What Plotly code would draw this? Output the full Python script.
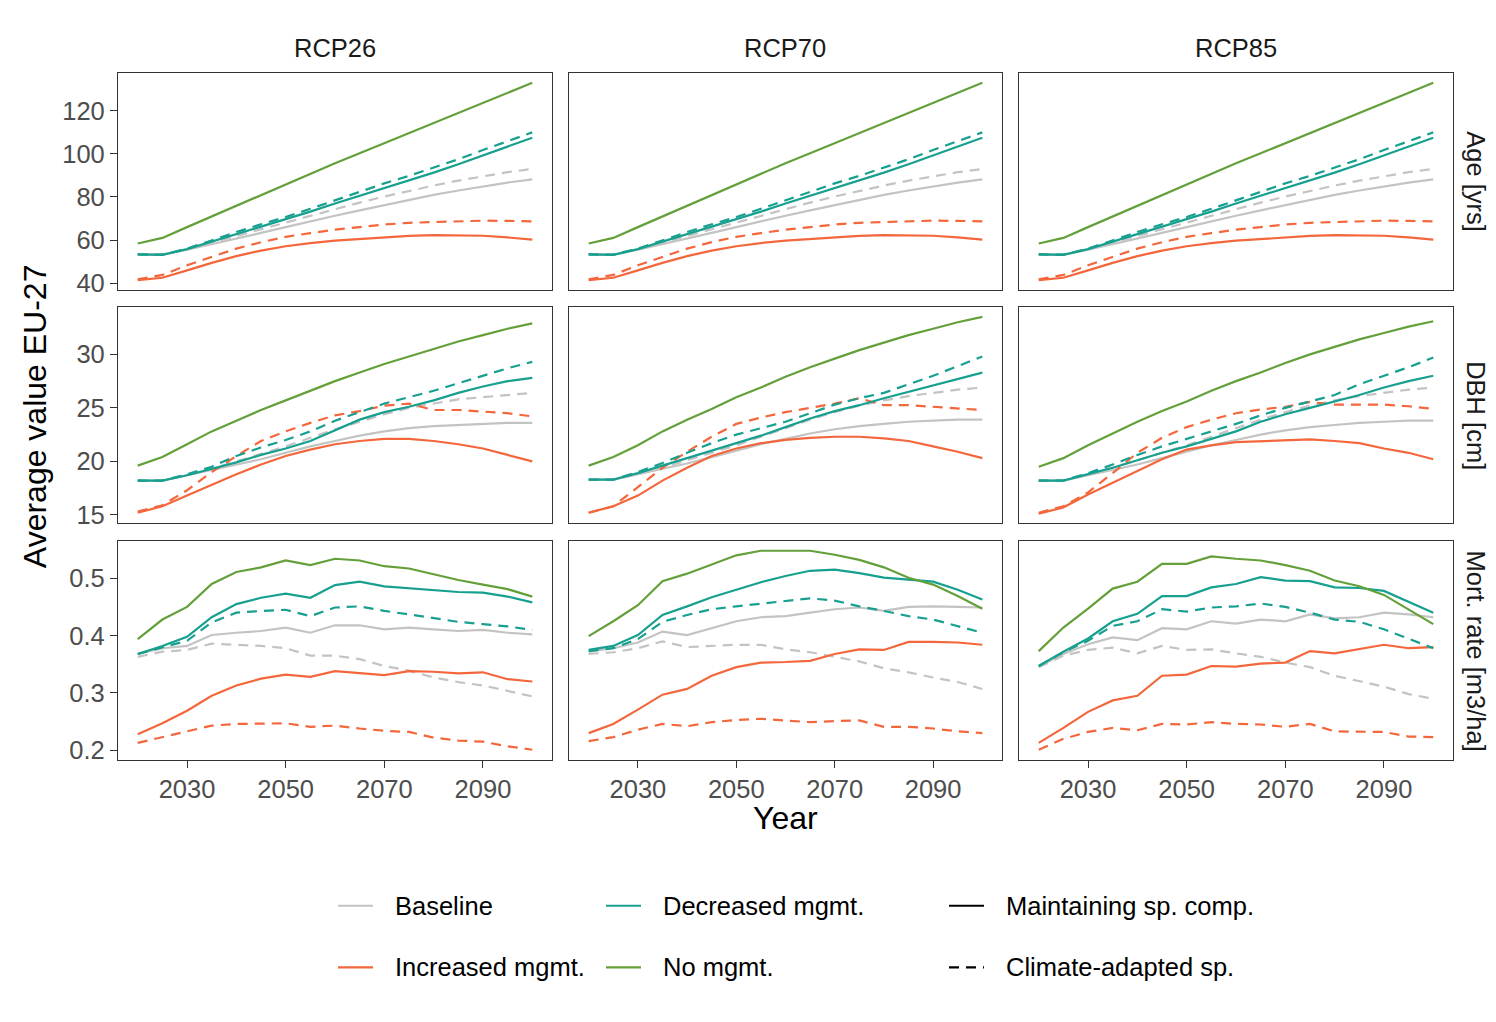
import plotly.graph_objects as go

# ---------------------------------------------------------------- data
years = list(range(2020, 2101, 5))
rcps = ["RCP26", "RCP70", "RCP85"]
variables = ["Age [yrs]", "DBH [cm]", "Mort. rate [m3/ha]"]

# series keys: <management>_<species composition>
# maint = maintaining species composition, adapt = climate-adapted species

# Average stand age [yrs]
age_rcp26 = {
    "base_maint": [53.3, 53.2, 55.5, 58.0, 60.5, 63.3, 66.0, 68.8, 71.3, 73.8, 76.3, 78.8, 81.0, 83.0, 85.0, 86.7, 88.2],
    "base_adapt": [53.3, 53.2, 55.7, 58.8, 62.0, 65.2, 68.4, 71.5, 74.5, 77.4, 80.2, 82.8, 85.3, 87.6, 89.7, 91.5, 93.0],
    "inc_maint": [41.4, 42.5, 45.9, 49.4, 52.5, 55.1, 57.1, 58.6, 59.7, 60.5, 61.3, 61.9, 62.3, 62.3, 62.0, 61.2, 60.2],
    "inc_adapt": [41.7, 43.8, 48.3, 52.3, 56.0, 59.0, 61.5, 63.2, 64.8, 66.0, 67.2, 68.0, 68.4, 68.8, 69.0, 68.9, 68.7],
    "dec_maint": [53.3, 53.1, 55.8, 59.3, 62.8, 66.3, 69.5, 73.2, 77.0, 80.5, 84.0, 87.5, 91.3, 95.2, 99.2, 103.3, 107.5],
    "dec_adapt": [53.3, 53.2, 56.0, 60.0, 63.7, 67.3, 70.7, 74.5, 78.5, 82.5, 86.3, 89.8, 93.5, 97.5, 101.8, 106.0, 110.0],
    "no_maint": [58.4, 61.0, 66.0, 71.0, 76.0, 81.0, 86.0, 91.0, 95.7, 100.3, 105.0, 109.7, 114.4, 119.0, 123.8, 128.4, 133.0],
}
age_rcp70 = {
    "base_maint": [53.3, 53.2, 55.5, 58.0, 60.5, 63.3, 66.0, 68.8, 71.3, 73.8, 76.3, 78.8, 81.0, 83.0, 85.0, 86.7, 88.2],
    "base_adapt": [53.3, 53.2, 55.7, 58.8, 62.0, 65.2, 68.4, 71.5, 74.5, 77.4, 80.2, 82.8, 85.3, 87.6, 89.7, 91.5, 93.0],
    "inc_maint": [41.4, 42.5, 45.9, 49.4, 52.5, 55.1, 57.1, 58.6, 59.7, 60.5, 61.3, 61.9, 62.3, 62.3, 62.0, 61.2, 60.2],
    "inc_adapt": [41.7, 43.8, 48.3, 52.3, 56.0, 59.0, 61.5, 63.2, 64.8, 66.0, 67.2, 68.0, 68.4, 68.8, 69.0, 68.9, 68.7],
    "dec_maint": [53.3, 53.1, 55.8, 59.3, 62.8, 66.3, 69.5, 73.2, 77.0, 80.5, 84.0, 87.5, 91.3, 95.2, 99.2, 103.3, 107.5],
    "dec_adapt": [53.3, 53.2, 56.0, 60.0, 63.7, 67.3, 70.7, 74.5, 78.5, 82.5, 86.3, 89.8, 93.5, 97.5, 101.8, 106.0, 110.0],
    "no_maint": [58.4, 61.0, 66.0, 71.0, 76.0, 81.0, 86.0, 91.0, 95.7, 100.3, 105.0, 109.7, 114.4, 119.0, 123.8, 128.4, 133.0],
}
age_rcp85 = {
    "base_maint": [53.3, 53.2, 55.5, 58.0, 60.5, 63.3, 66.0, 68.8, 71.3, 73.8, 76.3, 78.8, 81.0, 83.0, 85.0, 86.7, 88.2],
    "base_adapt": [53.3, 53.2, 55.7, 58.8, 62.0, 65.2, 68.4, 71.5, 74.5, 77.4, 80.2, 82.8, 85.3, 87.6, 89.7, 91.5, 93.0],
    "inc_maint": [41.4, 42.5, 45.9, 49.4, 52.5, 55.1, 57.1, 58.6, 59.7, 60.5, 61.3, 61.9, 62.3, 62.3, 62.0, 61.2, 60.2],
    "inc_adapt": [41.7, 43.8, 48.3, 52.3, 56.0, 59.0, 61.5, 63.2, 64.8, 66.0, 67.2, 68.0, 68.4, 68.8, 69.0, 68.9, 68.7],
    "dec_maint": [53.3, 53.1, 55.8, 59.3, 62.8, 66.3, 69.5, 73.2, 77.0, 80.5, 84.0, 87.5, 91.3, 95.2, 99.2, 103.3, 107.5],
    "dec_adapt": [53.3, 53.2, 56.0, 60.0, 63.7, 67.3, 70.7, 74.5, 78.5, 82.5, 86.3, 89.8, 93.5, 97.5, 101.8, 106.0, 110.0],
    "no_maint": [58.4, 61.0, 66.0, 71.0, 76.0, 81.0, 86.0, 91.0, 95.7, 100.3, 105.0, 109.7, 114.4, 119.0, 123.8, 128.4, 133.0],
}

# Average diameter at breast height [cm]
dbh_rcp26 = {
    "base_maint": [18.2, 18.2, 18.7, 19.2, 19.7, 20.2, 20.8, 21.4, 21.9, 22.4, 22.8, 23.1, 23.3, 23.4, 23.5, 23.6, 23.6],
    "base_adapt": [18.2, 18.2, 18.7, 19.3, 20.0, 20.7, 21.4, 22.2, 23.0, 23.7, 24.4, 25.0, 25.4, 25.8, 26.0, 26.2, 26.4],
    "inc_maint": [15.2, 15.8, 16.8, 17.8, 18.8, 19.7, 20.5, 21.1, 21.6, 21.9, 22.1, 22.1, 21.9, 21.6, 21.2, 20.6, 20.0],
    "inc_adapt": [15.3, 15.9, 17.3, 19.0, 20.5, 21.9, 22.8, 23.6, 24.3, 24.7, 25.2, 25.4, 24.8, 24.8, 24.65, 24.5, 24.2],
    "dec_maint": [18.2, 18.2, 18.7, 19.3, 19.9, 20.6, 21.2, 21.9, 22.9, 23.9, 24.6, 25.1, 25.7, 26.4, 27.0, 27.5, 27.8],
    "dec_adapt": [18.2, 18.2, 18.8, 19.5, 20.5, 21.3, 22.0, 22.8, 23.8, 24.6, 25.4, 26.0, 26.6, 27.3, 28.0, 28.7, 29.3],
    "no_maint": [19.6, 20.4, 21.6, 22.8, 23.8, 24.8, 25.7, 26.6, 27.5, 28.3, 29.1, 29.8, 30.5, 31.2, 31.8, 32.4, 32.9],
}
dbh_rcp70 = {
    "base_maint": [18.3, 18.3, 18.8, 19.3, 19.8, 20.4, 21.0, 21.6, 22.1, 22.6, 23.0, 23.3, 23.5, 23.7, 23.8, 23.9, 23.9],
    "base_adapt": [18.3, 18.3, 18.8, 19.4, 20.1, 20.8, 21.5, 22.3, 23.1, 23.9, 24.6, 25.2, 25.7, 26.1, 26.4, 26.7, 26.9],
    "inc_maint": [15.2, 15.8, 16.8, 18.2, 19.4, 20.5, 21.2, 21.7, 22.0, 22.2, 22.3, 22.3, 22.15, 21.9, 21.4, 20.9, 20.3],
    "inc_adapt": [15.2, 15.8, 17.6, 19.4, 20.9, 22.3, 23.5, 24.1, 24.6, 25.0, 25.4, 25.9, 25.25, 25.25, 25.1, 24.95, 24.8],
    "dec_maint": [18.3, 18.3, 18.9, 19.6, 20.3, 21.0, 21.7, 22.4, 23.2, 24.0, 24.7, 25.25, 25.9, 26.5, 27.1, 27.7, 28.3],
    "dec_adapt": [18.3, 18.3, 19.0, 19.85, 20.8, 21.7, 22.5, 23.1, 23.7, 24.5, 25.3, 25.9, 26.4, 27.2, 28.0, 28.9, 29.8],
    "no_maint": [19.6, 20.4, 21.5, 22.8, 23.9, 24.9, 26.0, 26.9, 27.9, 28.8, 29.6, 30.4, 31.1, 31.8, 32.4, 33.0, 33.5],
}
dbh_rcp85 = {
    "base_maint": [18.2, 18.2, 18.7, 19.2, 19.7, 20.3, 20.9, 21.5, 22.0, 22.5, 22.9, 23.2, 23.4, 23.6, 23.7, 23.8, 23.8],
    "base_adapt": [18.2, 18.2, 18.8, 19.4, 20.1, 20.8, 21.5, 22.3, 23.1, 23.9, 24.6, 25.2, 25.7, 26.1, 26.4, 26.7, 26.9],
    "inc_maint": [15.1, 15.7, 16.9, 18.0, 19.1, 20.2, 21.1, 21.5, 21.8, 21.9, 22.0, 22.05, 21.9, 21.7, 21.2, 20.8, 20.2],
    "inc_adapt": [15.2, 15.8, 17.1, 18.9, 20.8, 22.2, 23.2, 23.9, 24.5, 24.85, 25.1, 25.55, 25.3, 25.3, 25.3, 25.15, 24.9],
    "dec_maint": [18.2, 18.2, 18.8, 19.4, 20.1, 20.8, 21.4, 22.1, 22.8, 23.7, 24.4, 25.0, 25.6, 26.2, 26.9, 27.5, 28.0],
    "dec_adapt": [18.2, 18.2, 18.9, 19.7, 20.6, 21.4, 22.1, 22.8, 23.5, 24.3, 25.0, 25.6, 26.2, 27.2, 28.0, 28.8, 29.7],
    "no_maint": [19.5, 20.3, 21.5, 22.6, 23.7, 24.7, 25.6, 26.6, 27.5, 28.3, 29.2, 30.0, 30.7, 31.4, 32.0, 32.6, 33.1],
}

# Average mortality rate [m3/ha]
mort_rcp26 = {
    "base_maint": [0.368, 0.378, 0.382, 0.401, 0.405, 0.408, 0.414, 0.405, 0.418, 0.418, 0.411, 0.414, 0.411, 0.408, 0.410, 0.405, 0.402],
    "base_adapt": [0.363, 0.372, 0.375, 0.386, 0.384, 0.382, 0.378, 0.365, 0.365, 0.359, 0.347, 0.339, 0.327, 0.319, 0.313, 0.304, 0.294],
    "inc_maint": [0.228, 0.247, 0.269, 0.295, 0.313, 0.325, 0.332, 0.328, 0.338, 0.335, 0.331, 0.338, 0.337, 0.334, 0.336, 0.324, 0.320],
    "inc_adapt": [0.213, 0.223, 0.232, 0.243, 0.246, 0.246, 0.247, 0.241, 0.243, 0.238, 0.234, 0.232, 0.222, 0.217, 0.215, 0.207, 0.201],
    "dec_maint": [0.368, 0.382, 0.398, 0.432, 0.455, 0.466, 0.473, 0.466, 0.488, 0.494, 0.486, 0.483, 0.479, 0.476, 0.475, 0.468, 0.458],
    "dec_adapt": [0.368, 0.379, 0.391, 0.423, 0.440, 0.443, 0.445, 0.434, 0.449, 0.451, 0.443, 0.437, 0.430, 0.424, 0.420, 0.416, 0.410],
    "no_maint": [0.394, 0.428, 0.450, 0.490, 0.511, 0.519, 0.531, 0.523, 0.534, 0.531, 0.521, 0.517, 0.507, 0.497, 0.489, 0.481, 0.468],
}
mort_rcp70 = {
    "base_maint": [0.372, 0.378, 0.388, 0.407, 0.401, 0.413, 0.425, 0.432, 0.434, 0.440, 0.446, 0.449, 0.443, 0.450, 0.451, 0.450, 0.449],
    "base_adapt": [0.368, 0.371, 0.378, 0.390, 0.380, 0.382, 0.384, 0.384, 0.376, 0.371, 0.363, 0.355, 0.343, 0.336, 0.327, 0.319, 0.307],
    "inc_maint": [0.230, 0.246, 0.271, 0.297, 0.307, 0.330, 0.345, 0.353, 0.354, 0.356, 0.368, 0.376, 0.375, 0.389, 0.389, 0.388, 0.384],
    "inc_adapt": [0.216, 0.223, 0.236, 0.246, 0.242, 0.249, 0.253, 0.255, 0.252, 0.249, 0.251, 0.252, 0.241, 0.241, 0.238, 0.233, 0.230],
    "dec_maint": [0.375, 0.382, 0.401, 0.436, 0.451, 0.467, 0.480, 0.493, 0.504, 0.513, 0.515, 0.509, 0.501, 0.498, 0.494, 0.480, 0.463],
    "dec_adapt": [0.373, 0.378, 0.394, 0.424, 0.436, 0.446, 0.451, 0.456, 0.460, 0.465, 0.461, 0.451, 0.443, 0.434, 0.428, 0.417, 0.405],
    "no_maint": [0.399, 0.425, 0.453, 0.495, 0.508, 0.524, 0.540, 0.548, 0.548, 0.548, 0.541, 0.532, 0.519, 0.501, 0.489, 0.469, 0.447],
}
mort_rcp85 = {
    "base_maint": [0.346, 0.368, 0.385, 0.397, 0.392, 0.413, 0.411, 0.425, 0.421, 0.428, 0.425, 0.437, 0.430, 0.432, 0.440, 0.437, 0.432],
    "base_adapt": [0.345, 0.365, 0.375, 0.379, 0.369, 0.382, 0.375, 0.376, 0.369, 0.363, 0.353, 0.345, 0.330, 0.321, 0.311, 0.298, 0.290],
    "inc_maint": [0.213, 0.239, 0.267, 0.287, 0.295, 0.330, 0.332, 0.347, 0.346, 0.351, 0.353, 0.373, 0.369, 0.376, 0.384, 0.378, 0.380],
    "inc_adapt": [0.201, 0.220, 0.232, 0.239, 0.235, 0.246, 0.245, 0.249, 0.246, 0.245, 0.241, 0.246, 0.233, 0.232, 0.232, 0.224, 0.223],
    "dec_maint": [0.347, 0.372, 0.395, 0.425, 0.438, 0.469, 0.469, 0.484, 0.490, 0.502, 0.496, 0.495, 0.484, 0.483, 0.478, 0.459, 0.440],
    "dec_adapt": [0.347, 0.371, 0.391, 0.417, 0.425, 0.446, 0.442, 0.449, 0.451, 0.456, 0.450, 0.440, 0.428, 0.424, 0.411, 0.394, 0.378],
    "no_maint": [0.373, 0.414, 0.447, 0.482, 0.494, 0.525, 0.525, 0.538, 0.534, 0.531, 0.523, 0.513, 0.496, 0.486, 0.471, 0.446, 0.420],
}

panels = [
    [age_rcp26, age_rcp70, age_rcp85],
    [dbh_rcp26, dbh_rcp70, dbh_rcp85],
    [mort_rcp26, mort_rcp70, mort_rcp85],
]

y_ticks = [[40, 60, 80, 100, 120], [15, 20, 25, 30], [0.2, 0.3, 0.4, 0.5]]
y_ticktext = [["40", "60", "80", "100", "120"], ["15", "20", "25", "30"], ["0.2", "0.3", "0.4", "0.5"]]
y_ranges = [[36.8, 137.8], [14.2, 34.44], [0.1835, 0.5645]]
x_ticks = [2030, 2050, 2070, 2090]
x_range = [2016, 2104]

management_labels = {"base": "Baseline", "inc": "Increased mgmt.", "dec": "Decreased mgmt.", "no": "No mgmt."}
management_colors = {"base": "#C3C3C3", "inc": "#F4663B", "dec": "#17A08F", "no": "#64A03A"}
species_labels = {"maint": "Maintaining sp. comp.", "adapt": "Climate-adapted sp."}
DASH = "10px,7px"
draw_order = ["base_adapt", "base_maint", "inc_adapt", "inc_maint", "dec_adapt", "dec_maint", "no_maint"]

# ---------------------------------------------------------------- geometry
W, H = 1496, 1022
col_px = [(118, 552), (569, 1002), (1019, 1453)]
row_px = [(73, 292), (309, 527), (545, 765)]


def fx(px):
    return px / W


def fy(py):
    return 1 - py / H


FONT = "Liberation Sans, Arial, sans-serif"
AXIS_COLOR = "#333333"
TEXT_SIZE = 25.5
TITLE_SIZE = 32
TICK_FONT = dict(family=FONT, size=TEXT_SIZE, color="#4D4D4D")

fig = go.Figure()
layout = dict(
    width=W, height=H, autosize=False,
    margin=dict(l=0, r=0, t=0, b=0),
    paper_bgcolor="white", plot_bgcolor="white",
    showlegend=False,
    font=dict(family=FONT),
)

for r in range(3):
    for c in range(3):
        idx = r * 3 + c + 1
        xname = "xaxis" if idx == 1 else f"xaxis{idx}"
        yname = "yaxis" if idx == 1 else f"yaxis{idx}"
        xref = "x" if idx == 1 else f"x{idx}"
        yref = "y" if idx == 1 else f"y{idx}"
        bottom = r == 2
        left = c == 0
        layout[xname] = dict(
            domain=[fx(col_px[c][0]), fx(col_px[c][1])],
            anchor=yref, range=x_range,
            showgrid=False, zeroline=False,
            showline=True, mirror=True, linecolor=AXIS_COLOR, linewidth=1.2,
            ticks="outside" if bottom else "", ticklen=7, tickwidth=1.3, tickcolor=AXIS_COLOR,
            tickvals=x_ticks, showticklabels=bottom, tickfont=TICK_FONT,
        )
        layout[yname] = dict(
            domain=[fy(row_px[r][1]), fy(row_px[r][0])],
            anchor=xref, range=y_ranges[r],
            showgrid=False, zeroline=False,
            showline=True, mirror=True, linecolor=AXIS_COLOR, linewidth=1.2,
            ticks="outside" if left else "", ticklen=7, tickwidth=1.3, tickcolor=AXIS_COLOR,
            tickvals=y_ticks[r], ticktext=y_ticktext[r], showticklabels=left, tickfont=TICK_FONT,
        )
        data = panels[r][c]
        for key in draw_order:
            mg, sp = key.split("_")
            fig.add_trace(go.Scatter(
                x=years, y=data[key], mode="lines",
                xaxis=xref, yaxis=yref,
                name=f"{management_labels[mg]} / {species_labels[sp]}",
                line=dict(color=management_colors[mg], width=2.2,
                          dash=DASH if sp == "adapt" else "solid"),
                hoverinfo="x+y+name",
            ))

annotations = []
# column strips
for c, rcp in enumerate(rcps):
    annotations.append(dict(
        text=rcp, x=fx((col_px[c][0] + col_px[c][1]) / 2), y=fy(48),
        xref="paper", yref="paper", showarrow=False, xanchor="center", yanchor="middle",
        font=dict(family=FONT, size=TEXT_SIZE, color="#1A1A1A"),
    ))
# row strips
for r, var in enumerate(variables):
    annotations.append(dict(
        text=var, x=fx(1476), y=fy((row_px[r][0] + row_px[r][1]) / 2),
        xref="paper", yref="paper", showarrow=False, xanchor="center", yanchor="middle",
        textangle=90, font=dict(family=FONT, size=TEXT_SIZE, color="#1A1A1A"),
    ))
# axis titles
annotations.append(dict(
    text="Average value EU-27", x=fx(35), y=fy((row_px[0][0] + row_px[2][1]) / 2),
    xref="paper", yref="paper", showarrow=False, xanchor="center", yanchor="middle",
    textangle=-90, font=dict(family=FONT, size=TITLE_SIZE, color="black"),
))
annotations.append(dict(
    text="Year", x=fx((col_px[1][0] + col_px[1][1]) / 2), y=fy(824),
    xref="paper", yref="paper", showarrow=False, xanchor="center", yanchor="middle",
    font=dict(family=FONT, size=TITLE_SIZE, color="black"),
))

# legend keys
legend_items = [
    ("Baseline", management_colors["base"], "solid", 338, 912),
    ("Increased mgmt.", management_colors["inc"], "solid", 338, 974),
    ("Decreased mgmt.", management_colors["dec"], "solid", 606, 912),
    ("No mgmt.", management_colors["no"], "solid", 606, 974),
    ("Maintaining sp. comp.", "black", "solid", 949, 912),
    ("Climate-adapted sp.", "black", DASH, 949, 974),
]
shapes = []
for label, color, dash, x0, yc in legend_items:
    shapes.append(dict(
        type="line", xref="paper", yref="paper",
        x0=fx(x0), x1=fx(x0 + 35), y0=fy(yc), y1=fy(yc),
        line=dict(color=color, width=2.2, dash=dash),
    ))
    annotations.append(dict(
        text=label, x=fx(x0 + 55), y=fy(yc),
        xref="paper", yref="paper", showarrow=False, xanchor="left", yanchor="middle",
        font=dict(family=FONT, size=TEXT_SIZE, color="black"),
    ))

layout["annotations"] = annotations
layout["shapes"] = shapes
fig.update_layout(**layout)
fig.write_html("out.html")
